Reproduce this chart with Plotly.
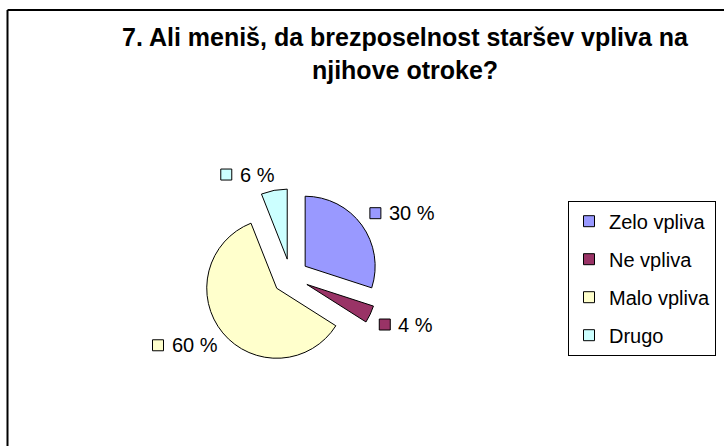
import math
import plotly.graph_objects as go

# ---- data ----
categories = ["Zelo vpliva", "Ne vpliva", "Malo vpliva", "Drugo"]
values = [30, 4, 60, 6]
colors = ["#9999FF", "#993366", "#FFFFCC", "#CCFFFF"]
title_lines = ["7. Ali meniš, da brezposelnost staršev vpliva na", "njihove otroke?"]

# ---- layout constants ----
W, H = 724, 446
FONT = "Liberation Sans, Arial, sans-serif"

cx, cy = 290.6, 276.8      # pie centre (px)
r = 70.0                   # pie radius (px)
pull = 0.257               # explosion, fraction of radius
half = r * (1 + pull)
dom_x = [(cx - half) / W, (cx + half) / W]
dom_y = [(H - cy - half) / H, (H - cy + half) / H]

fig = go.Figure()
fig.add_trace(go.Pie(
    labels=categories, values=values, sort=False, direction="clockwise", rotation=0,
    pull=pull, textinfo="none", hoverinfo="label+percent", showlegend=False,
    marker=dict(colors=colors, line=dict(color="black", width=1)),
    domain=dict(x=dom_x, y=dom_y),
))

# legend entries (one group each so they can be spaced like the original)
for cat, col in zip(categories, colors):
    fig.add_trace(go.Scatter(
        x=[None], y=[None], mode="markers", name=cat, legendgroup=cat,
        marker=dict(symbol="square", size=11, color=col, line=dict(color="black", width=1)),
        hoverinfo="skip",
    ))

# ---- outside data labels with colour keys ----
CHAR_W = {"%": 0.889, " ": 0.278}
def text_w(s, size):
    return sum(CHAR_W.get(c, 0.556) for c in s) * size

KEY, GAP, LBL_R, LBL_FS = 11, 6, 98, 20
total = sum(values)
cum = 0
FRAME_X, FRAME_Y = 7.5, 10
shapes = [
    # chart-area frame (cropped on the right and bottom, as in the original)
    dict(type="line", xref="paper", yref="paper", x0=FRAME_X / W, x1=1.0,
         y0=(H - FRAME_Y) / H, y1=(H - FRAME_Y) / H, line=dict(color="black", width=2)),
    dict(type="line", xref="paper", yref="paper", x0=FRAME_X / W, x1=FRAME_X / W,
         y0=0.0, y1=(H - FRAME_Y) / H, line=dict(color="black", width=2)),
]
annotations = []
for cat, v, col in zip(categories, values, colors):
    theta = math.radians((cum + v / 2) / total * 360)
    cum += v
    dx, dy = math.sin(theta), -math.cos(theta)
    px, py = cx + LBL_R * dx, cy + LBL_R * dy
    txt = f"{round(v / total * 100)} %"
    wlab = KEY + GAP + text_w(txt, LBL_FS)
    left = px if dx >= 0 else px - wlab
    hl = KEY + 1
    ymid = py - hl / 2 if dy < 0 else py + hl / 2
    shapes.append(dict(type="rect", xref="paper", yref="paper",
                       x0=left / W, x1=(left + KEY) / W,
                       y0=(H - ymid - KEY / 2) / H, y1=(H - ymid + KEY / 2) / H,
                       fillcolor=col, line=dict(color="black", width=1)))
    annotations.append(dict(x=(left + KEY + GAP) / W, y=(H - ymid) / H, xref="paper", yref="paper",
                            text=txt, showarrow=False, xanchor="left", yanchor="middle",
                            font=dict(size=LBL_FS, family=FONT, color="black")))

fig.update_layout(
    width=W, height=H, margin=dict(l=0, r=0, t=0, b=0),
    paper_bgcolor="white", plot_bgcolor="rgba(0,0,0,0)",
    xaxis=dict(visible=False), yaxis=dict(visible=False),
    title=dict(text="<br>".join(title_lines), x=405 / W, xanchor="center",
               y=(H - 46) / H, yanchor="middle",
               font=dict(family=FONT, size=25, color="black", weight="bold")),
    legend=dict(x=716 / W, xanchor="right", y=(H - 200.7) / H, yanchor="top",
                bordercolor="black", borderwidth=1, bgcolor="white",
                font=dict(family=FONT, size=20, color="black"),
                tracegroupgap=9, traceorder="grouped"),
    showlegend=True,
    shapes=shapes, annotations=annotations,
)

fig.write_html("out.html", config={"displayModeBar": False},
               post_script="document.body.style.margin='0';")
